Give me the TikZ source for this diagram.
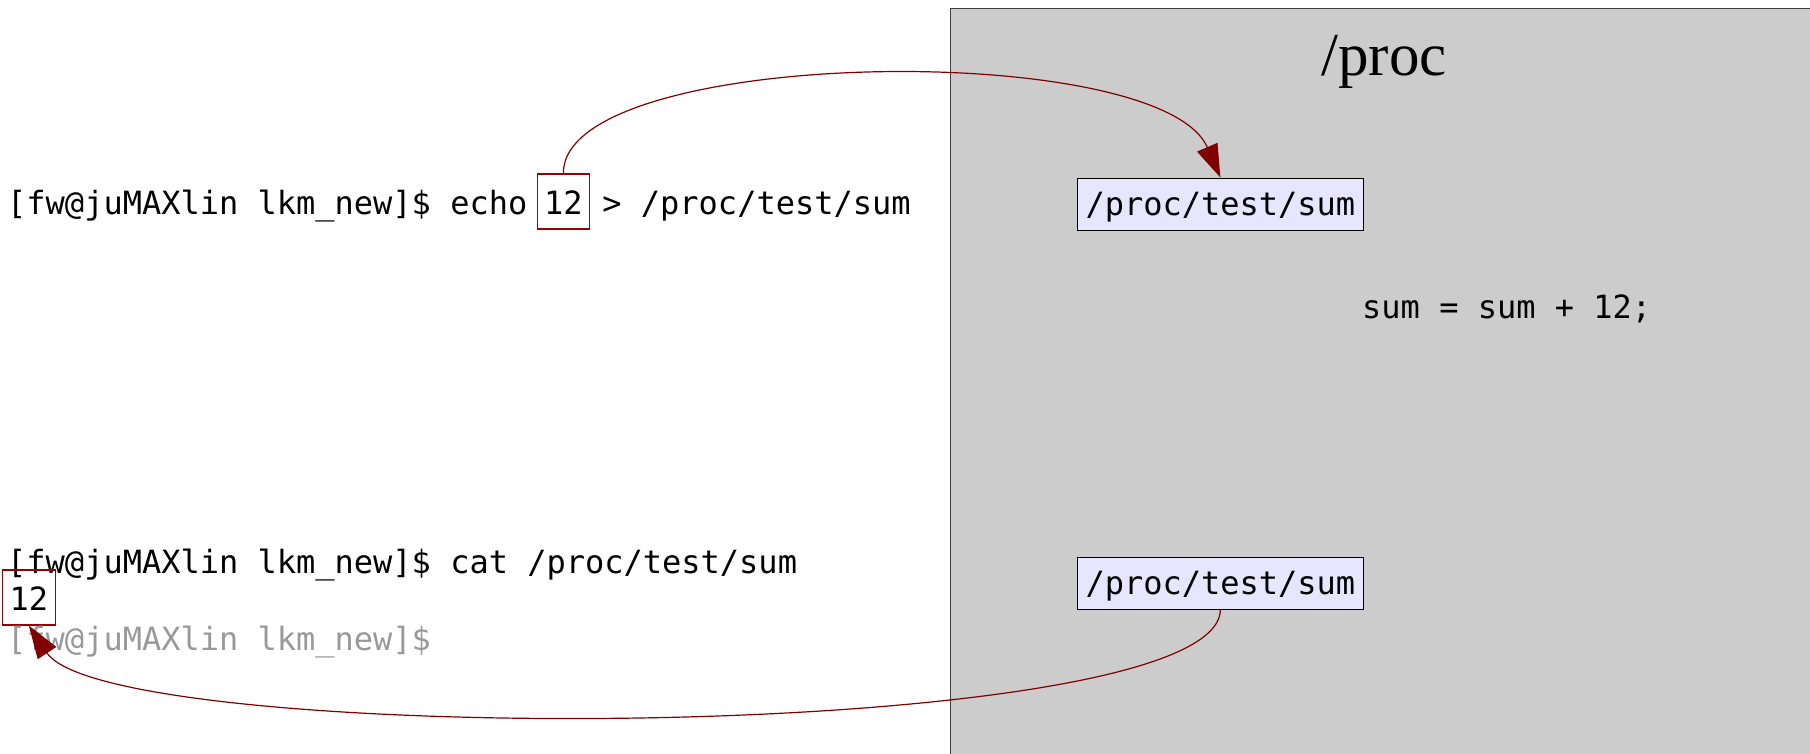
\documentclass[tikz,border=0pt]{standalone}
\usepackage{fontspec}
\setmainfont{Liberation Serif}
\newfontfamily\termfont{DejaVu Sans Mono}
\usetikzlibrary{arrows.meta,positioning,calc}
\definecolor{procgray}{HTML}{CCCCCC}
\definecolor{filebox}{HTML}{E6E6FF}
\definecolor{darkred}{HTML}{800000}
\definecolor{boxred}{HTML}{990000}
\definecolor{promptgray}{HTML}{999999}

\begin{document}
\begin{tikzpicture}[x=1pt,y=-1pt,
  term/.style={anchor=base west,inner sep=0pt,font=\termfont\fontsize{32}{38}\selectfont},
  numbox/.style={term,draw=boxred,line width=1.1pt,inner xsep=7pt,inner ysep=6pt,text height=34pt,text depth=9pt},
  procbox/.style={term,draw=black,fill=filebox,line width=1pt,inner xsep=8pt,inner ysep=5pt,text height=32pt,text depth=10pt},
  flow/.style={darkred,line width=1.2pt,-{Triangle[length=33pt,width=22pt]}}]
  \useasboundingbox (0,0) rectangle (1810,753);

  % kernel side
  \node[fill=procgray,draw=black!75,line width=1pt,anchor=north west,
        minimum width=880pt,minimum height=770pt,inner sep=0pt] (procfs) at (950,8) {};
  \node[anchor=base,font=\fontsize{61}{70}\selectfont] (title) at (1384,75) {/proc};
  \node[procbox] (procin) at (1077,215) {/proc/test/sum};
  \node[term] (update) at (1362,318) {sum = sum + 12;};
  \node[procbox] (procout) at (1077,594) {/proc/test/sum};

  % shell: write
  \node[term] (cmdA) at (7,214) {[fw@juMAXlin lkm\_new]\$ echo};
  \node[numbox,right=9pt of cmdA.base east,anchor=base west] (in12) {12};
  \node[term,right=12pt of in12.base east,anchor=base west] (cmdB) {> /proc/test/sum};

  % shell: read
  \node[term] (cmdC) at (7,573) {[fw@juMAXlin lkm\_new]\$ cat /proc/test/sum};
  \node[numbox] (out12) at (2,610) {12};
  \node[term,text=promptgray] (prompt) at (7,650) {[fw@juMAXlin lkm\_new]\$};

  % data flow
  \draw[flow] (in12.north) .. controls (562,47) and (1160,38) .. (procin.north);
  \draw[flow] (procout.south) .. controls (1220,745) and (110,748) .. (out12.south);
\end{tikzpicture}
\end{document}
